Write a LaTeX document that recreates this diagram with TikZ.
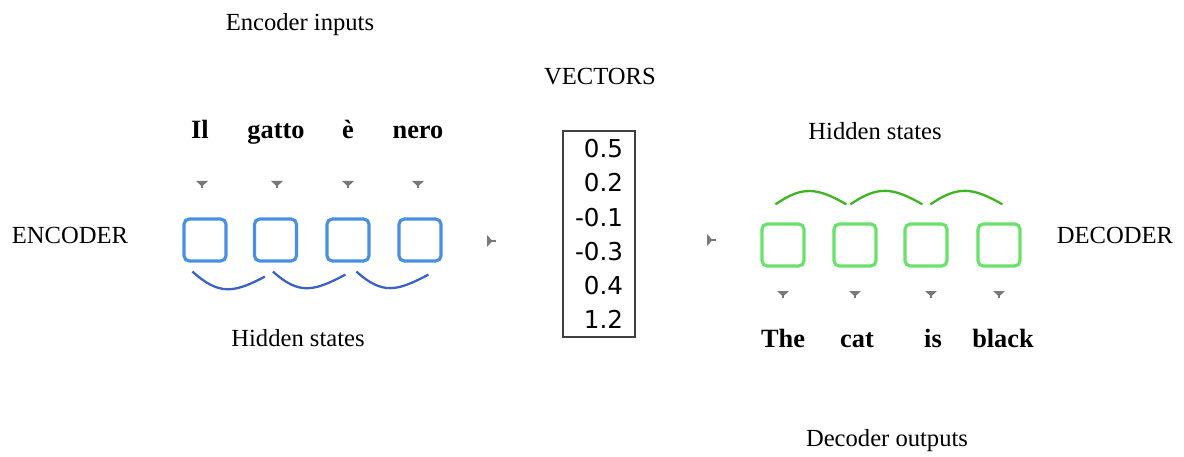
\documentclass[tikz,border=0pt]{standalone}
\usepackage{fontspec}
\setmainfont{Liberation Serif}
\newfontfamily\vecfont{DejaVu Sans}
\usetikzlibrary{arrows.meta}
\definecolor{encblue}{RGB}{74,144,226}
\definecolor{arcblue}{RGB}{58,98,196}
\definecolor{decgreen}{RGB}{104,226,104}
\definecolor{arcgreen}{RGB}{62,180,34}
\definecolor{tickgrey}{RGB}{120,120,120}
\begin{document}
\begin{tikzpicture}[
  txt/.style={font=\fontsize{14}{16}\selectfont},
  word/.style={font=\fontsize{15}{17}\selectfont\bfseries, text height=2ex, text depth=0.5ex},
  encbox/.style={draw=encblue, line width=1.8pt, rounded corners=3pt, minimum size=0.84cm, inner sep=0pt},
  decbox/.style={draw=decgreen, line width=1.8pt, rounded corners=3pt, minimum size=0.84cm, inner sep=0pt},
  vecbox/.style={draw=black!75, line width=0.9pt, fill=white, minimum width=1.44cm, minimum height=4.12cm,
    align=right, font=\vecfont\fontsize{14}{19.4}\selectfont},
  tick/.style={tickgrey, line width=1.4pt, -{Triangle[reversed, length=3.2pt, width=6.5pt]}},
  encarc/.style={arcblue, line width=1.3pt},
  decarc/.style={arcgreen, line width=1.3pt}]
\useasboundingbox (0,0) rectangle (23.68,9.12);
% labels
\node[txt] (encin) at (6.00,8.62) {Encoder inputs};
\node[txt] (vlab) at (12.00,7.58) {VECTORS};
\node[txt] (enc) at (1.40,4.42) {ENCODER};
\node[txt] (dec) at (22.30,4.42) {DECODER};
\node[txt] (ehid) at (5.96,2.36) {Hidden states};
\node[txt] (dhid) at (17.50,6.50) {Hidden states};
\node[txt] (decout) at (17.74,0.30) {Decoder outputs};
% encoder words
\node[word] (w1) at (4.00,6.48) {Il};
\node[word] (w2) at (5.52,6.48) {gatto};
\node[word] (w3) at (6.96,6.48) {è};
\node[word] (w4) at (8.36,6.48) {nero};
% encoder boxes
\node[encbox] (e1) at (4.10,4.32) {};
\node[encbox] (e2) at (5.51,4.32) {};
\node[encbox] (e3) at (6.96,4.32) {};
\node[encbox] (e4) at (8.40,4.32) {};
% vector
\node[vecbox] (vec) at (11.98,4.44) {0.5\\0.2\\-0.1\\-0.3\\0.4\\1.2};
% decoder boxes
\node[decbox] (d1) at (15.66,4.22) {};
\node[decbox] (d2) at (17.10,4.22) {};
\node[decbox] (d3) at (18.52,4.22) {};
\node[decbox] (d4) at (19.98,4.22) {};
% decoder words
\node[word] (o1) at (15.66,2.30) {The};
\node[word] (o2) at (17.14,2.30) {cat};
\node[word] (o3) at (18.66,2.30) {is};
\node[word] (o4) at (20.06,2.30) {black};
% small arrows
\coordinate (t1) at (4.04,5.36);
\coordinate (t2) at (5.54,5.36);
\coordinate (t3) at (6.96,5.36);
\coordinate (t4) at (8.36,5.36);
\coordinate (b1) at (15.66,3.16);
\coordinate (b2) at (17.10,3.16);
\coordinate (b3) at (18.62,3.16);
\coordinate (b4) at (19.98,3.16);
\coordinate (l1) at (9.92,4.30);
\coordinate (l2) at (14.32,4.32);
\foreach \t in {t1,t2,t3,t4,b1,b2,b3,b4}
  \draw[tick] (\t) -- ++(0,0.14);
\draw[tick] (l1) -- ++(-0.18,0);
\draw[tick] (l2) -- ++(-0.18,0);
% hidden state arcs
\draw[encarc] ([shift={(0.20,-0.18)}]e1.south west) to[out=-42, in=208, looseness=1.25] ([shift={(0.24,-0.28)}]e2.south west);
\draw[encarc] ([shift={(0.40,-0.18)}]e2.south west) to[out=-42, in=208, looseness=1.25] ([shift={(0.40,-0.24)}]e3.south west);
\draw[encarc] ([shift={(0.62,-0.18)}]e3.south west) to[out=-42, in=208, looseness=1.25] ([shift={(0.62,-0.24)}]e4.south west);
\draw[decarc] ([shift={(0.30,0.36)}]d1.north west) to[out=35, in=150, looseness=1.2] ([shift={(0.28,0.36)}]d2.north west);
\draw[decarc] ([shift={(0.36,0.36)}]d2.north west) to[out=35, in=150, looseness=1.2] ([shift={(0.38,0.36)}]d3.north west);
\draw[decarc] ([shift={(0.54,0.36)}]d3.north west) to[out=35, in=150, looseness=1.2] ([shift={(0.52,0.36)}]d4.north west);
\end{tikzpicture}
\end{document}
